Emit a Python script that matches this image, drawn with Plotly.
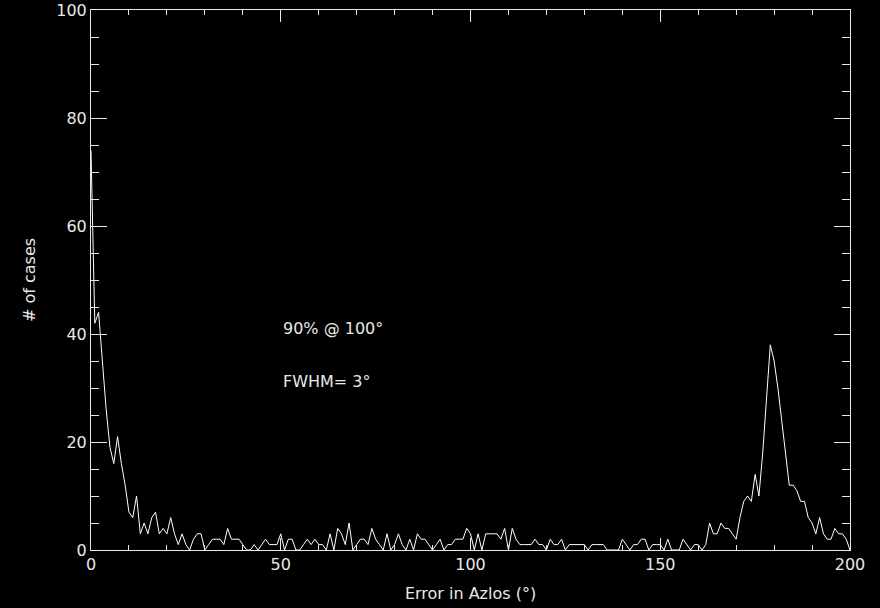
import plotly.graph_objects as go

# Histogram of azimuth errors, 1-degree bins from 0 to 200 degrees
bin_deg = list(range(0, 201))

counts_000_039 = [74, 42, 44, 34, 26, 19, 16, 21, 16, 12,
                  7, 6, 10, 3, 5, 3, 6, 7, 3, 4,
                  3, 6, 3, 1, 3, 1, 0, 2, 3, 3,
                  0, 1, 2, 2, 2, 1, 4, 2, 2, 2]
counts_040_079 = [1, 0, 0, 1, 0, 1, 2, 1, 1, 1,
                  3, 0, 2, 2, 0, 0, 1, 2, 1, 2,
                  1, 1, 0, 3, 0, 4, 3, 1, 5, 0,
                  1, 2, 2, 1, 4, 2, 1, 0, 3, 0]
counts_080_119 = [1, 3, 1, 0, 2, 0, 3, 2, 2, 1,
                  0, 1, 2, 0, 1, 1, 2, 2, 2, 4,
                  3, 0, 3, 0, 3, 3, 3, 3, 2, 4,
                  0, 4, 2, 1, 1, 1, 1, 2, 1, 1]
counts_120_159 = [0, 2, 1, 1, 2, 0, 1, 1, 1, 1,
                  1, 0, 1, 1, 1, 1, 0, 0, 0, 0,
                  2, 1, 0, 1, 1, 2, 2, 0, 1, 1,
                  1, 0, 2, 0, 0, 0, 2, 1, 0, 1]
counts_160_200 = [1, 0, 1, 5, 3, 3, 5, 4, 4, 3,
                  2, 6, 9, 10, 9, 14, 10, 18, 29, 38,
                  35, 30, 24, 18, 12, 12, 11, 9, 9, 6,
                  5, 3, 6, 3, 2, 2, 4, 3, 3, 2,
                  0]

counts = counts_000_039 + counts_040_079 + counts_080_119 + counts_120_159 + counts_160_200

x_ticks = [0, 50, 100, 150, 200]
y_ticks = [0, 20, 40, 60, 80, 100]

notes = ["90% @ 100°", "FWHM= 3°"]
note_x = [50, 50]
note_y = [41.1, 31.2]

fg = "#e8e8e8"
font = dict(family="DejaVu Sans", size=16, color=fg)

fig = go.Figure()
fig.add_trace(go.Scatter(
    x=bin_deg, y=counts, mode="lines",
    line=dict(color="#ffffff", width=1),
    hoverinfo="x+y", showlegend=False,
))

for txt, ax, ay in zip(notes, note_x, note_y):
    fig.add_annotation(x=ax, y=ay, xref="x", yref="y", text=txt,
                       showarrow=False, xanchor="left", yanchor="middle",
                       font=font)

axis_common = dict(
    showgrid=False, zeroline=False, showline=True, linecolor=fg, linewidth=1,
    mirror="ticks", ticks="inside", tickcolor=fg, tickwidth=1,
    tickfont=font, automargin=False,
)

fig.update_xaxes(
    range=[0, 200], tickvals=x_ticks, ticklen=12,
    minor=dict(dtick=10, ticklen=5, ticks="inside", tickcolor=fg, tickwidth=1),
    title=dict(text="Error in Azlos (°)", font=font, standoff=14),
    **axis_common,
)
fig.update_yaxes(
    range=[0, 100], tickvals=y_ticks, ticklen=16,
    minor=dict(dtick=5, ticklen=8, ticks="inside", tickcolor=fg, tickwidth=1),
    title=dict(text="# of cases", font=font, standoff=16),
    **axis_common,
)

fig.update_layout(
    width=880, height=608,
    margin=dict(l=91, r=30, t=10, b=58, pad=0),
    paper_bgcolor="#000000", plot_bgcolor="#000000",
    font=font,
)

fig.write_html("out.html")
